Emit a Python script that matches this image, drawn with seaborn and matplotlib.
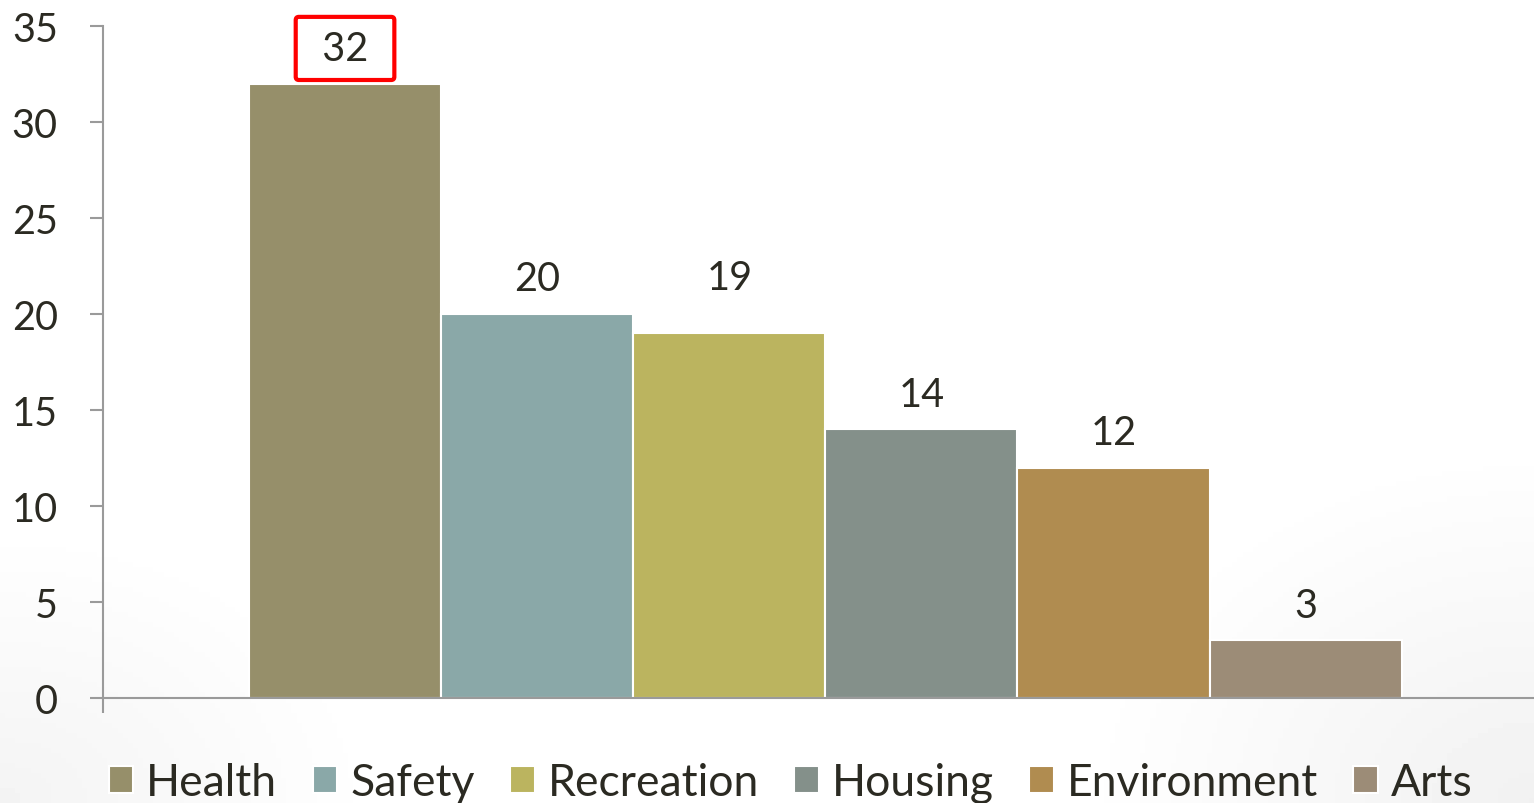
import numpy as np
import pandas as pd
import matplotlib.pyplot as plt
import seaborn as sns

# categories and values
categories = ["Health", "Safety", "Recreation", "Housing", "Environment", "Arts"]
values = [32, 20, 19, 14, 12, 3]
colors = ["#968F6A", "#8AA8A8", "#BBB45F", "#84908A", "#B08C50", "#9C8C77"]
yticks = [0, 5, 10, 15, 20, 25, 30, 35]

df = pd.DataFrame({"group": [""] * len(categories), "category": categories, "value": values})

sns.set_style("white")
plt.rcParams["font.family"] = ["Lato", "DejaVu Sans"]
text_col = "#2B2A22"
axis_col = "#9A9A9A"

fig = plt.figure(figsize=(15.34, 8.04), dpi=100)

# faint grey shading in the lower corners of the slide
bg = fig.add_axes([0, 0, 1, 1], zorder=-5)
gx, gy = np.meshgrid(np.linspace(0, 1, 300), np.linspace(0, 1, 160))
shade = 0.045 * np.clip(1 - np.hypot(gx / 0.25, gy / 0.35), 0, 1) \
    + 0.055 * np.clip(1 - np.hypot((1 - gx) / 0.3, gy / 0.45), 0, 1)
bg.imshow(1 - shade, cmap="gray", vmin=0, vmax=1, origin="lower",
          extent=[0, 1, 0, 1], aspect="auto")
bg.axis("off")

ax = fig.add_axes([103 / 1534, 1 - 699 / 804, 1 - 103 / 1534, (699 - 27) / 804])
ax.patch.set_alpha(0)

sns.barplot(data=df, x="group", y="value", hue="category", palette=colors,
            saturation=1, width=0.8, gap=0, edgecolor="white", linewidth=1.5, ax=ax)

ax.set_xlim(-0.5013, 0.4918)
ax.set_ylim(0, 35)
ax.set_yticks(yticks)
ax.set_xticks([-0.5013])
ax.set_xticklabels([""])
ax.set_xlabel("")
ax.set_ylabel("")

for s in ["top", "right"]:
    ax.spines[s].set_visible(False)
for s in ["left", "bottom"]:
    ax.spines[s].set_color(axis_col)
    ax.spines[s].set_linewidth(1.5)

ax.tick_params(axis="y", direction="out", length=9.5, width=1.5, color=axis_col,
               pad=23, labelsize=28.5, labelcolor=text_col, left=True)
ax.tick_params(axis="x", direction="out", length=11, width=1.5, color=axis_col, bottom=True)

# value labels; the "19" label sits a bit higher, level with "20"
label_pad = [12, 12, 27, 12, 12, 12]
for i, cont in enumerate(ax.containers):
    txt = ax.bar_label(cont, padding=label_pad[i], fontsize=28.5, color=text_col)
    if i == 0:
        t = txt[0]
        t.set_text("\u2004" + t.get_text() + "\u2004")
        t.set_bbox(dict(boxstyle="round,pad=0.33,rounding_size=0.08",
                        facecolor="white", edgecolor="#FF0000", linewidth=3))

leg = ax.legend(ncol=6, loc="center left", bbox_to_anchor=(109 / 1534, 1 - 784 / 804),
                bbox_transform=fig.transFigure, frameon=False, fontsize=32,
                handlelength=0.55, handleheight=0.55, handletextpad=0.29,
                columnspacing=0.8, borderpad=0, borderaxespad=0)
for text in leg.get_texts():
    text.set_color(text_col)

fig.savefig("out.png", dpi=100)
